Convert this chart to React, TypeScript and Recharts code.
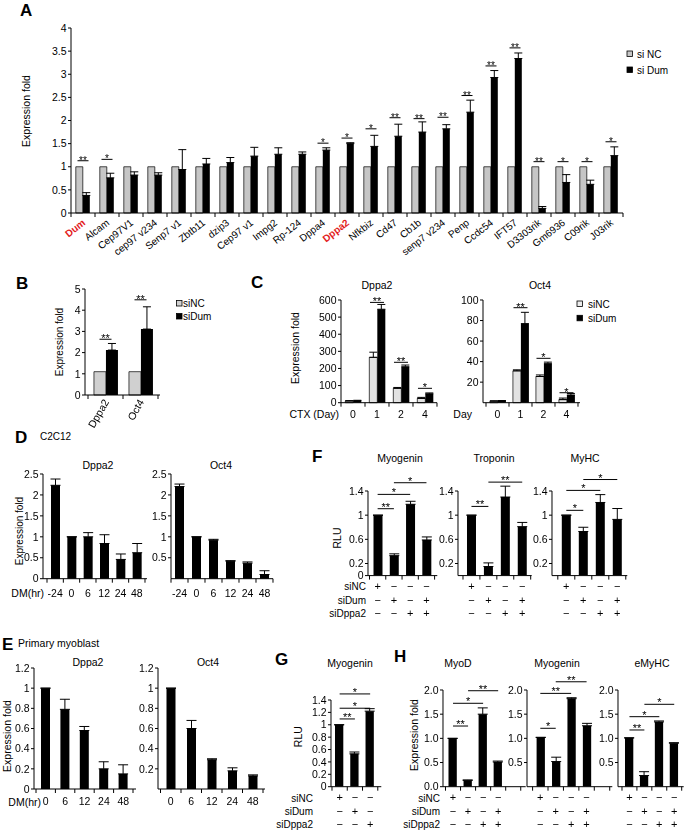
import React from "react";
import { ComposedChart, Bar, Line, XAxis, YAxis, ErrorBar, ReferenceLine } from "recharts";

const FONT = '"Liberation Sans", Arial, Helvetica, sans-serif';
const M = "\u2212";

// ---- A: screening ----
const genesA = ["Dum", "Alcam", "Cep97V1", "cep97 v234", "Senp7 v1", "Zbtb11", "dzip3", "Cep97 v1", "Impg2", "Rp-124", "Dppa4", "Dppa2", "Nfkbiz", "Cd47", "Cb1b", "senp7 v234", "Penp", "Ccdc54", "IFT57", "D3303rik", "Gm6936", "C09rik", "J03rik"];
const siNcA = [1, 1, 1, 1, 1, 1, 1, 1, 1, 1, 1, 1, 1, 1, 1, 1, 1, 1, 1, 1, 1, 1, 1];
const siNcErrA = [0, 0, 0, 0, 0, 0, 0, 0, 0, 0, 0, 0, 0, 0, 0, 0, 0, 0, 0, 0, 0, 0, 0];
const siDumA = [0.38, 0.76, 0.82, 0.82, 0.94, 1.06, 1.09, 1.23, 1.27, 1.27, 1.36, 1.5, 1.44, 1.66, 1.75, 1.82, 2.18, 2.93, 3.34, 0.1, 0.66, 0.62, 1.24];
const siDumErrA = [0.06, 0.1, 0.07, 0.05, 0.43, 0.12, 0.11, 0.19, 0.14, 0.05, 0.05, 0.02, 0.24, 0.26, 0.22, 0.09, 0.26, 0.15, 0.12, 0.04, 0.17, 0.09, 0.19];
const starsA = ["**", "*", "", "", "", "", "", "", "", "", "*", "*", "*", "**", "**", "**", "**", "**", "**", "**", "*", "*", "*"];
const starYA = [1.13, 1.16, null, null, null, null, null, null, null, null, 1.51, 1.62, 1.82, 2.06, 2.04, 2.07, 2.54, 3.18, 3.57, 1.11, 1.11, 1.11, 1.54];
const redA = ["Dum", "Dppa2"];

// ---- B ----
const genesB = ["Dppa2", "Oct4"];
const siNcB = [1.1, 1.1];
const siNcErrB = [0, 0];
const siDumB = [2.12, 3.11];
const siDumErrB = [0.31, 1.05];
const starsB = ["**", "**"];
const starYB = [2.63, 4.49];

// ---- C ----
const daysC = ["0", "1", "2", "4"];
const dppa2NcC = [10, 265, 84, 25];
const dppa2NcErrC = [2, 30, 5, 6];
const dppa2DumC = [12, 546, 210, 52];
const dppa2DumErrC = [2, 28, 10, 5];
const dppa2StarsC = ["", "**", "**", "*"];
const dppa2StarYC = [null, 586, 236, 84];
const oct4NcC = [1.5, 31, 25.5, 3];
const oct4NcErrC = [0.3, 1, 1.5, 1.5];
const oct4DumC = [1.8, 77, 38, 7.5];
const oct4DumErrC = [0.3, 11, 1.5, 1.5];
const oct4StarsC = ["", "**", "*", "*"];
const oct4StarYC = [null, 92.5, 43.2, 9.7];

// ---- D: C2C12 ----
const hoursD = ["-24", "0", "6", "12", "24", "48"];
const dppa2D = [2.23, 1.0, 1.0, 0.84, 0.46, 0.62];
const dppa2ErrD = [0.15, 0, 0.1, 0.21, 0.13, 0.22];
const oct4D = [2.2, 1.0, 0.92, 0.42, 0.37, 0.1];
const oct4ErrD = [0.06, 0, 0.02, 0.01, 0.03, 0.09];

// ---- E: primary myoblast ----
const hoursE = ["0", "6", "12", "24", "48"];
const dppa2E = [1.0, 0.79, 0.58, 0.2, 0.15];
const dppa2ErrE = [0, 0.1, 0.04, 0.07, 0.09];
const oct4E = [1.0, 0.6, 0.29, 0.18, 0.13];
const oct4ErrE = [0, 0.08, 0.01, 0.03, 0.01];

// ---- F / H conditions ----
const cond4 = ["NC", "Dum", "Dppa2", "Dum+Dppa2"];
const rowNc4 = ["+", M, M, M];
const rowDum4 = [M, "+", M, "+"];
const rowDppa24 = [M, M, "+", "+"];
const rowLabels = ["siNC", "siDum", "siDppa2"];

const myogF = [1.0, 0.33, 1.18, 0.59];
const myogErrF = [0, 0.03, 0.05, 0.05];
const tropF = [1.0, 0.15, 1.3, 0.81];
const tropErrF = [0, 0.06, 0.18, 0.07];
const myhcF = [1.0, 0.73, 1.21, 0.93];
const myhcErrF = [0, 0.07, 0.13, 0.18];

// ---- G ----
const cond3 = ["NC", "Dum", "Dppa2"];
const rowNc3 = ["+", M, M];
const rowDum3 = [M, "+", M];
const rowDppa23 = [M, M, "+"];
const myogG = [1.0, 0.53, 1.22];
const myogErrG = [0, 0.03, 0.04];

// ---- H ----
const myodH = [1.0, 0.13, 1.5, 0.51];
const myodErrH = [0, 0.01, 0.13, 0.02];
const myogH = [1.02, 0.52, 1.82, 1.26];
const myogErrH = [0, 0.09, 0.02, 0.05];
const emyhcH = [1.01, 0.23, 1.34, 0.9];
const emyhcErrH = [0, 0.08, 0.02, 0.01];

type Sig = { a: number; b: number; y: number; t: string };
const sigMyogF: Sig[] = [{ a: 0, b: 1, y: 1.107, t: "**" }, { a: 0, b: 2, y: 1.344, t: "*" }, { a: 1, b: 3, y: 1.537, t: "*" }];
const sigTropF: Sig[] = [{ a: 0, b: 1, y: 1.145, t: "**" }, { a: 1, b: 3, y: 1.547, t: "**" }];
const sigMyhcF: Sig[] = [{ a: 0, b: 1, y: 1.08, t: "*" }, { a: 0, b: 2, y: 1.41, t: "*" }, { a: 1, b: 3, y: 1.59, t: "*" }];
const sigMyogG: Sig[] = [{ a: 0, b: 1, y: 1.094, t: "**" }, { a: 0, b: 2, y: 1.267, t: "*" }, { a: 0, b: 2, y: 1.498, t: "*" }];
const sigMyodH: Sig[] = [{ a: 0, b: 1, y: 1.255, t: "**" }, { a: 0, b: 2, y: 1.725, t: "*" }, { a: 1, b: 3, y: 1.985, t: "**" }];
const sigMyogH: Sig[] = [{ a: 0, b: 1, y: 1.208, t: "*" }, { a: 0, b: 2, y: 1.93, t: "**" }, { a: 1, b: 3, y: 2.17, t: "**" }];
const sigEmyhcH: Sig[] = [{ a: 0, b: 1, y: 1.173, t: "**" }, { a: 0, b: 2, y: 1.448, t: "*" }, { a: 1, b: 3, y: 1.704, t: "*" }];

const pair = (names: string[], nc: number[], ncErr: number[], dum: number[], dumErr: number[], sig: string[], sigY: (number | null)[]) =>
  names.map((name, i) => ({ name, nc: nc[i], ncErr: [0, ncErr[i]], dum: dum[i], dumErr: [0, dumErr[i]], sig: sig[i], sigY: sigY[i] }));
const single = (names: string[], v: number[], e: number[]) => names.map((name, i) => ({ name, v: v[i], e: [0, e[i]] }));

type TickFn = (t: any, bw: number, n: number) => React.ReactElement;

function bounds(x: number, y: number, bw: number, i: number, n: number, extra: number) {
  const xs = [x - bw / 2];
  if (i === n - 1) for (let k = 0; k <= extra; k++) xs.push(x + bw / 2 + k * bw);
  return xs.map((bx, k) => <line key={k} x1={bx} x2={bx} y1={y} y2={y + 4} stroke="#000" />);
}
const idx = (t: any) => (t.index ?? t.payload?.index ?? 0);

const plainTick = (dy: number, extra = 0): TickFn => (t, bw, n) => (
  <g>
    {bounds(t.x, t.y, bw, idx(t), n, extra)}
    <text x={t.x} y={t.y + dy} textAnchor="middle" fontSize={10.5} fill="#000">{t.payload.value}</text>
  </g>
);
const rotTick = (angle: number, dx: number, dy: number, fs: number, red: string[] = []): TickFn => (t, bw, n) => {
  const v = String(t.payload.value);
  const hi = red.includes(v);
  const tx = t.x + dx;
  const ty = t.y + dy;
  return (
    <g>
      {bounds(t.x, t.y, bw, idx(t), n, 0)}
      <text x={tx} y={ty} transform={`rotate(${angle} ${tx} ${ty})`} textAnchor="end" fontSize={fs} fill={hi ? "#e3201b" : "#000"} fontWeight={hi ? "bold" : "normal"}>{v}</text>
    </g>
  );
};
const rowTick = (rows: string[][], extra = 0): TickFn => (t, bw, n) => {
  const i = idx(t);
  const dys = [14.8, 28, 41.3];
  return (
    <g>
      {bounds(t.x, t.y, bw, i, n, extra)}
      {rows.map((r, k) => (
        <text key={k} x={t.x} y={t.y + dys[k]} textAnchor="middle" fontSize={11} fill="#000">{r[i]}</text>
      ))}
    </g>
  );
};

// significance mark for a pair of bars in one category
const starDot = (half: number, fs: number) => (d: any) => {
  const { cx, cy, payload, index } = d;
  if (cy == null || !payload || !payload.sig) return <g key={`s${index}`} />;
  return (
    <g key={`s${index}`} filter="url(#mono)">
      <line x1={cx - half} x2={cx + half} y1={cy} y2={cy} stroke="#000" strokeWidth={1} />
      <text x={cx} y={cy + 3} textAnchor="middle" fontSize={fs} fill="#000">{payload.sig}</text>
    </g>
  );
};

interface PanelProps {
  ax: number; axEnd: number; yTop: number; yZero: number; yMax: number;
  ticks: number[]; fmt?: (v: number) => string;
  padL?: number; padR?: number; xh: number;
  data: any[]; gap?: string; barSize?: number;
  tick: TickFn; clip?: boolean; gray?: boolean;
  children?: React.ReactNode;
}

function Panel(p: PanelProps) {
  const YW = 40, MT = 30, MR = 4;
  const plotW = p.axEnd - p.ax;
  const width = YW + plotW + MR;
  const height = MT + (p.yZero - p.yTop) + p.xh;
  const n = p.data.length;
  const bw = (plotW - (p.padL ?? 0) - (p.padR ?? 0)) / n;
  return (
    <div style={{ position: "absolute", left: p.ax - YW, top: p.yTop - MT, width, height, filter: p.gray === false ? undefined : "grayscale(1)" }}>
      <ComposedChart width={width} height={height} data={p.data} margin={{ top: MT, right: MR, bottom: 0, left: 0 }} barGap={0} barCategoryGap={p.gap ?? "20%"} barSize={p.barSize}>
        <XAxis dataKey="name" height={p.xh} interval={0} tickLine={false} tickSize={0} tickMargin={0} axisLine={{ stroke: "#000" }} padding={{ left: p.padL ?? 0, right: p.padR ?? 0 }} tick={(t: any) => p.tick(t, bw, n)} />
        <YAxis type="number" width={YW} domain={[0, p.yMax]} ticks={p.ticks} interval={0} allowDataOverflow={!!p.clip} tickSize={3} tickMargin={1.5} axisLine={{ stroke: "#000" }} tickLine={{ stroke: "#000" }} tick={{ fill: "#000", fontSize: 10.5 }} tickFormatter={p.fmt} />
        {p.children}
      </ComposedChart>
    </div>
  );
}

function pairSeries(ncFill: string, ncErr: boolean, half: number, fs: number) {
  return [
    <Bar key="nc" dataKey="nc" fill={ncFill} stroke="#000" strokeWidth={0.7} isAnimationActive={false}>
      {ncErr ? <ErrorBar dataKey="ncErr" width={4} stroke="#000" strokeWidth={1} /> : null}
    </Bar>,
    <Bar key="dum" dataKey="dum" fill="#000" isAnimationActive={false}>
      <ErrorBar dataKey="dumErr" width={4} stroke="#000" strokeWidth={1} />
    </Bar>,
    <Line key="sig" dataKey="sigY" stroke="none" dot={starDot(half, fs)} activeDot={false} isAnimationActive={false} />,
  ];
}

function singleSeries(cats: string[], sigs: Sig[]) {
  return [
    <Bar key="v" dataKey="v" fill="#000" isAnimationActive={false}>
      <ErrorBar dataKey="e" width={5} stroke="#000" strokeWidth={1} />
    </Bar>,
    ...sigs.map((s, k) => (
      <ReferenceLine key={`r${k}`} segment={[{ x: cats[s.a], y: s.y }, { x: cats[s.b], y: s.y }]} stroke="#000" strokeWidth={1} ifOverflow="visible"
        label={{ value: s.t, position: "top", offset: -2, fontSize: 11, fill: "#000" }} />
    )),
  ];
}

type Tx = { t: string; x: number; y: number; s?: number; b?: boolean; a?: "start" | "middle" | "end"; r?: boolean };
const texts: Tx[] = [
  { t: "A", x: 20, y: 16, s: 17, b: true },
  { t: "B", x: 16, y: 289, s: 17, b: true },
  { t: "C", x: 251, y: 288, s: 17, b: true },
  { t: "D", x: 15, y: 443, s: 17, b: true },
  { t: "E", x: 2, y: 650, s: 17, b: true },
  { t: "F", x: 312, y: 462, s: 17, b: true },
  { t: "G", x: 275, y: 665, s: 17, b: true },
  { t: "H", x: 394, y: 662, s: 17, b: true },
  { t: "C2C12", x: 40, y: 440, s: 10 },
  { t: "Primary myoblast", x: 18, y: 647 },
  { t: "Dppa2", x: 377, y: 289, a: "middle" },
  { t: "Oct4", x: 540, y: 289, a: "middle" },
  { t: "Dppa2", x: 98, y: 469, a: "middle" },
  { t: "Oct4", x: 221, y: 469, a: "middle" },
  { t: "Dppa2", x: 88, y: 666, a: "middle" },
  { t: "Oct4", x: 208, y: 666, a: "middle" },
  { t: "Myogenin", x: 400, y: 462, a: "middle" },
  { t: "Troponin", x: 494, y: 462, a: "middle" },
  { t: "MyHC", x: 585, y: 462, a: "middle" },
  { t: "Myogenin", x: 350, y: 667, a: "middle" },
  { t: "MyoD", x: 458, y: 667, a: "middle" },
  { t: "Myogenin", x: 557, y: 667, a: "middle" },
  { t: "eMyHC", x: 652, y: 667, a: "middle" },
  { t: "CTX (Day)", x: 339, y: 418, a: "end" },
  { t: "Day", x: 472, y: 418, a: "end" },
  { t: "DM(hr)", x: 44, y: 597, a: "end" },
  { t: "DM(hr)", x: 41, y: 805.5, a: "end" },
  { t: "Expression fold", x: 26, y: 111, r: true },
  { t: "Expression fold", x: 59, y: 342, r: true, s: 10 },
  { t: "Expression fold", x: 295, y: 348, r: true },
  { t: "Expression fold", x: 19.5, y: 531, r: true, s: 10 },
  { t: "Expression fold", x: 7, y: 736, r: true },
  { t: "RLU", x: 336.5, y: 538, r: true },
  { t: "RLU", x: 298.3, y: 736.7, r: true },
  { t: "Expression fold", x: 414, y: 735, r: true },
  { t: "si NC", x: 637, y: 57.5, s: 10 },
  { t: "si Dum", x: 637, y: 73.5, s: 10 },
  { t: "siNC", x: 183, y: 306.5, s: 10 },
  { t: "siDum", x: 183, y: 319.5, s: 10 },
  { t: "siNC", x: 588, y: 307.7, s: 10 },
  { t: "siDum", x: 588, y: 322, s: 10 },
];
const rowXs = [366, 313, 440];
const rowYs = [[590, 603.5, 617], [801.5, 815, 828.3], [801.5, 815, 828.3]];
const legendBoxes = [
  { x: 627, y: 51, fill: "#c6c6c6" }, { x: 627, y: 67, fill: "#000" },
  { x: 176.5, y: 300.5, fill: "#d0d0d0" }, { x: 176.5, y: 313.5, fill: "#000" },
  { x: 577, y: 301, fill: "#ececec" }, { x: 577, y: 315.3, fill: "#000" },
];

export default function App() {
  const dataA = pair(genesA, siNcA, siNcErrA, siDumA, siDumErrA, starsA, starYA);
  const dataB = pair(genesB, siNcB, siNcErrB, siDumB, siDumErrB, starsB, starYB);
  const dataC1 = pair(daysC, dppa2NcC, dppa2NcErrC, dppa2DumC, dppa2DumErrC, dppa2StarsC, dppa2StarYC);
  const dataC2 = pair(daysC, oct4NcC, oct4NcErrC, oct4DumC, oct4DumErrC, oct4StarsC, oct4StarYC);
  const rows4 = [rowNc4, rowDum4, rowDppa24];
  const rows3 = [rowNc3, rowDum3, rowDppa23];
  const fmt1 = (v: number) => v.toFixed(1);

  return (
    <div style={{ position: "absolute", left: 0, top: 0, width: 685, height: 836, background: "#fff", fontFamily: FONT, overflow: "hidden" }}>
      <svg width={0} height={0} style={{ position: "absolute" }}>
        <defs>
          <filter id="mono" x="-20%" y="-50%" width="140%" height="200%">
            <feColorMatrix type="saturate" values="0" />
          </filter>
        </defs>
      </svg>
      <Panel gray={false} ax={71} axEnd={623} yTop={28} yZero={213} yMax={4} ticks={[0, 0.5, 1, 1.5, 2, 2.5, 3, 3.5, 4]} xh={75} data={dataA} gap="20%" tick={rotTick(-38, 3, 11, 10, redA)}>
        {pairSeries("#c6c6c6", false, 5.5, 10)}
      </Panel>
      <Panel ax={85} axEnd={160} padL={3} padR={2} yTop={289} yZero={395} yMax={5} ticks={[0, 1, 2, 3, 4, 5]} xh={45} data={dataB} gap="17%" tick={rotTick(-60, 4, 7, 10.5)}>
        {pairSeries("#d0d0d0", false, 6, 11)}
      </Panel>
      <Panel ax={341} axEnd={437} yTop={300} yZero={402.7} yMax={600} ticks={[0, 100, 200, 300, 400, 500, 600]} xh={25} data={dataC1} gap="18%" tick={plainTick(15.3)}>
        {pairSeries("#e2e2e2", true, 7, 11)}
      </Panel>
      <Panel ax={483} axEnd={580} padL={3} padR={2} yTop={300} yZero={402.7} yMax={100} ticks={[20, 40, 60, 80, 100]} xh={25} data={dataC2} gap="17%" tick={plainTick(15.3)}>
        {pairSeries("#e2e2e2", true, 7, 11)}
      </Panel>
      <Panel ax={43} axEnd={147} padL={4} padR={2} yTop={474.3} yZero={579} yMax={2.5} ticks={[0, 0.5, 1, 1.5, 2, 2.5]} xh={25} data={single(hoursD, dppa2D, dppa2ErrD)} barSize={9} tick={plainTick(18)}>
        {singleSeries(hoursD, [])}
      </Panel>
      <Panel ax={171} axEnd={273} yTop={474.3} yZero={579} yMax={2.5} ticks={[0.5, 1, 1.5, 2, 2.5]} xh={25} data={single(hoursD, oct4D, oct4ErrD)} barSize={9} tick={plainTick(18)}>
        {singleSeries(hoursD, [])}
      </Panel>
      <Panel ax={34} axEnd={136} padL={2} padR={3} yTop={668.3} yZero={789.3} yMax={1.2} ticks={[0, 0.2, 0.4, 0.6, 0.8, 1, 1.2]} xh={25} data={single(hoursE, dppa2E, dppa2ErrE)} barSize={9} tick={plainTick(16)}>
        {singleSeries(hoursE, [])}
      </Panel>
      <Panel ax={158} axEnd={265} padL={2.5} padR={2} yTop={668.3} yZero={789.3} yMax={1.2} ticks={[0.2, 0.4, 0.6, 0.8, 1, 1.2]} xh={25} data={single(hoursE, oct4E, oct4ErrE)} barSize={9} tick={plainTick(16)}>
        {singleSeries(hoursE, [])}
      </Panel>
      <Panel ax={367.7} axEnd={437} padL={1.5} padR={2.7} yTop={490.7} yZero={575.3} yMax={1.4} ticks={[0, 0.2, 0.6, 1, 1.4]} xh={50} clip data={single(cond4, myogF, myogErrF)} barSize={9} tick={rowTick(rows4)}>
        {singleSeries(cond4, sigMyogF)}
      </Panel>
      <Panel ax={458.3} axEnd={532} padL={5} padR={1} yTop={490.7} yZero={575.3} yMax={1.4} ticks={[0.2, 0.6, 1, 1.4]} xh={50} clip data={single(cond4, tropF, tropErrF)} barSize={9} tick={rowTick(rows4)}>
        {singleSeries(cond4, sigTropF)}
      </Panel>
      <Panel ax={551.7} axEnd={627} padL={5.8} padR={1.5} yTop={490.7} yZero={575.3} yMax={1.4} ticks={[0.2, 0.6, 1, 1.4]} xh={50} clip data={single(cond4, myhcF, myhcErrF)} barSize={9} tick={rowTick(rows4)}>
        {singleSeries(cond4, sigMyhcF)}
      </Panel>
      <Panel ax={330.7} axEnd={381} padL={1} padR={3.5} yTop={700} yZero={786.7} yMax={1.4} ticks={[0, 0.2, 0.4, 0.6, 0.8, 1, 1.2, 1.4]} xh={50} clip data={single(cond3, myogG, myogErrG)} barSize={8.3} tick={rowTick(rows3)}>
        {singleSeries(cond3, sigMyogG)}
      </Panel>
      <Panel ax={443.3} axEnd={526} padL={2.5} padR={20} yTop={690} yZero={786.7} yMax={2} ticks={[0, 0.5, 1, 1.5, 2]} fmt={fmt1} xh={50} clip data={single(cond4, myodH, myodErrH)} barSize={8.3} tick={rowTick(rows4, 1)}>
        {singleSeries(cond4, sigMyodH)}
      </Panel>
      <Panel ax={526.7} axEnd={612} padL={5.6} padR={18} yTop={690} yZero={786.7} yMax={2} ticks={[0.5, 1, 1.5, 2]} fmt={fmt1} xh={50} clip data={single(cond4, myogH, myogErrH)} barSize={8.3} tick={rowTick(rows4, 1)}>
        {singleSeries(cond4, sigMyogH)}
      </Panel>
      <Panel ax={618.3} axEnd={684} padL={4} padR={2} yTop={690} yZero={786.7} yMax={2} ticks={[0.5, 1, 1.5, 2]} fmt={fmt1} xh={50} clip data={single(cond4, emyhcH, emyhcErrH)} barSize={8.3} tick={rowTick(rows4)}>
        {singleSeries(cond4, sigEmyhcH)}
      </Panel>

      <svg width={685} height={836} style={{ position: "absolute", left: 0, top: 0, pointerEvents: "none" }}>
        {legendBoxes.map((b, i) => (
          <rect key={`lb${i}`} x={b.x} y={b.y} width={5.5} height={5.5} fill={b.fill} stroke="#000" strokeWidth={0.8} />
        ))}
        {texts.map((d, i) =>
          d.r ? (
            <text key={`t${i}`} transform={`translate(${d.x} ${d.y}) rotate(-90)`} textAnchor="middle" dominantBaseline="central" fontSize={d.s ?? 10.5} fill="#000">{d.t}</text>
          ) : (
            <text key={`t${i}`} x={d.x} y={d.y} textAnchor={d.a ?? "start"} fontSize={d.s ?? 10.5} fontWeight={d.b ? "bold" : "normal"} fill="#000">{d.t}</text>
          )
        )}
        {rowXs.map((rx, p) =>
          rowLabels.map((lab, k) => (
            <text key={`rl${p}-${k}`} x={rx} y={rowYs[p][k]} textAnchor="end" fontSize={10} fill="#000">{lab}</text>
          ))
        )}
      </svg>
    </div>
  );
}
